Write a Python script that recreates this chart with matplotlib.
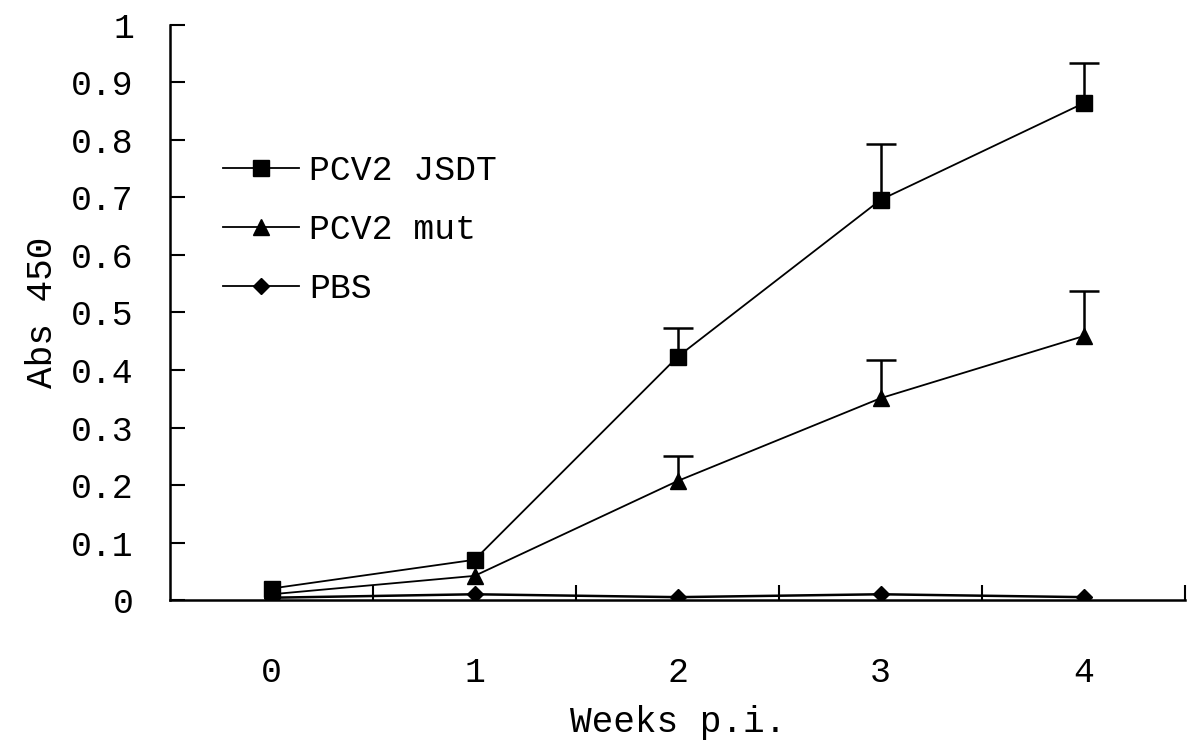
import numpy as np
import matplotlib
matplotlib.use("Agg")
import matplotlib.pyplot as plt
from matplotlib.lines import Line2D

plt.rcParams['font.family'] = ['Liberation Mono', 'DejaVu Sans Mono']

# Data
weeks = ["0", "1", "2", "3", "4"]
jsdt = [0.02, 0.07, 0.423, 0.696, 0.864]
jsdt_err = [0.0, 0.0, 0.05, 0.097, 0.07]
mut = [0.01, 0.042, 0.207, 0.351, 0.459]
mut_err = [0.0, 0.0, 0.043, 0.066, 0.078]
pbs = [0.004, 0.01, 0.005, 0.01, 0.005]

x = np.arange(len(weeks))

fig = plt.figure(figsize=(12, 7.52), dpi=100)
ax = fig.add_axes([0.1417, 0.2021, 0.846, 0.7647])

# lines + markers, then only the upper half of each error bar where there is one
for vals, err, mk in [(jsdt, jsdt_err, 's'), (mut, mut_err, '^')]:
    ax.plot(x, vals, color='black', lw=1.3, marker=mk, ms=12)
    vals = np.array(vals)
    err = np.array(err)
    has = err > 0
    eb = ax.errorbar(x[has], vals[has], yerr=[np.zeros(has.sum()), err[has]],
                     fmt='none', ecolor='black', capsize=11, elinewidth=1.8,
                     capthick=1.8)
    eb[1][0].set_visible(False)
ax.plot(x, pbs, color='black', lw=1.8, marker='D', ms=8)

ax.set_xlim(-0.5, 4.5)
ax.set_ylim(0, 1)
ax.set_yticks(np.arange(0, 1.01, 0.1))
ax.set_yticklabels(["0"] + ["%.1f" % v for v in np.arange(0.1, 0.95, 0.1)] + ["1"])
ax.set_xticks(x)
ax.set_xticklabels(weeks)
ax.set_xticks(np.arange(0.5, 4.6, 1), minor=True)

for s in ['top', 'right']:
    ax.spines[s].set_visible(False)
for s in ['left', 'bottom']:
    ax.spines[s].set_linewidth(1.8)

ax.tick_params(axis='y', direction='in', length=11, width=1.5, pad=26,
               labelsize=25)
ax.tick_params(axis='x', which='major', length=0, pad=40, labelsize=25)
ax.tick_params(axis='x', which='minor', direction='in', length=11, width=1.5)

ax.set_xlabel("Weeks p.i.", fontsize=26, labelpad=12)
ax.set_ylabel("Abs 450", fontsize=26, labelpad=8)

handles = [
    Line2D([], [], color='black', lw=1.3, marker='s', ms=12),
    Line2D([], [], color='black', lw=1.3, marker='^', ms=12),
    Line2D([], [], color='black', lw=1.3, marker='D', ms=8),
]
ax.legend(handles, ["PCV2 JSDT", "PCV2 mut", "PBS"], loc='upper left',
          bbox_to_anchor=(0.038, 0.80), frameon=False, fontsize=25,
          handlelength=2.2, handletextpad=0.3, labelspacing=0.75,
          borderaxespad=0)

fig.savefig("out.png", dpi=100)
